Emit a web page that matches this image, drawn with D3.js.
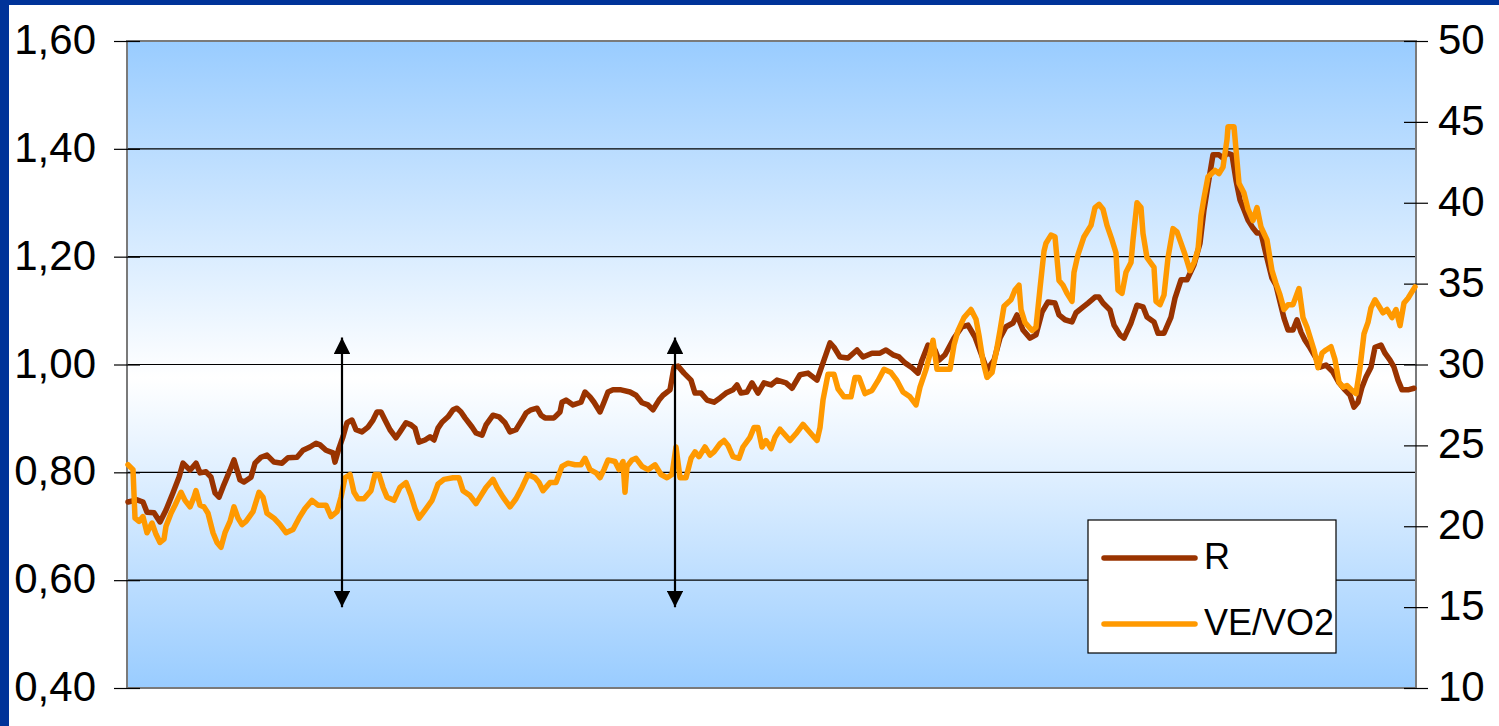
<!DOCTYPE html>
<html><head><meta charset="utf-8">
<script src="https://cdn.jsdelivr.net/npm/d3@7"></script>
<style>
html,body{margin:0;padding:0;background:#fff;}
svg{display:block;font-family:"Liberation Sans",Arial,sans-serif;}
</style></head>
<body>
<svg id="c" width="1499" height="726"></svg>
<script>
// ---- Data (time position, value) ----
const leftTicks = [0.4, 0.6, 0.8, 1.0, 1.2, 1.4, 1.6];
const rightTicks = [10, 15, 20, 25, 30, 35, 40, 45, 50];
const seriesNames = ["R", "VE/VO2"];
const arrowTimes = [215, 548];

const rData = [[1,0.745],[10,0.749],[16,0.745],[20,0.726],[27,0.725],[33,0.708],[39,0.730],[46,0.762],[52,0.791],[56,0.817],[63,0.804],[69,0.817],[73,0.799],[79,0.801],[84,0.791],[88,0.762],[92,0.754],[96,0.773],[103,0.804],[107,0.823],[113,0.786],[117,0.782],[124,0.791],[128,0.817],[134,0.828],[140,0.832],[147,0.819],[155,0.817],[161,0.827],[170,0.828],[176,0.841],[183,0.847],[189,0.854],[193,0.851],[199,0.841],[206,0.836],[208,0.819],[212,0.845],[216,0.866],[220,0.892],[225,0.897],[229,0.879],[235,0.875],[241,0.884],[246,0.897],[250,0.912],[254,0.912],[258,0.897],[263,0.879],[269,0.864],[273,0.875],[279,0.892],[284,0.888],[288,0.882],[292,0.856],[298,0.860],[303,0.866],[307,0.860],[311,0.882],[315,0.893],[321,0.903],[326,0.916],[330,0.919],[334,0.912],[338,0.901],[345,0.884],[349,0.873],[355,0.869],[359,0.888],[366,0.906],[372,0.903],[378,0.892],[383,0.875],[389,0.879],[395,0.897],[399,0.910],[404,0.916],[410,0.919],[414,0.906],[418,0.901],[427,0.901],[433,0.912],[435,0.930],[439,0.934],[446,0.925],[454,0.930],[458,0.949],[463,0.940],[467,0.930],[473,0.912],[477,0.930],[481,0.949],[486,0.953],[494,0.953],[503,0.949],[509,0.943],[515,0.929],[521,0.925],[526,0.916],[532,0.934],[536,0.943],[543,0.953],[547,0.995],[551,0.997],[557,0.984],[564,0.971],[568,0.947],[574,0.947],[580,0.934],[587,0.930],[593,0.938],[599,0.947],[606,0.953],[610,0.962],[614,0.947],[620,0.949],[625,0.966],[631,0.947],[637,0.966],[644,0.962],[650,0.971],[659,0.966],[665,0.956],[673,0.981],[681,0.984],[690,0.971],[696,1.003],[703,1.040],[707,1.032],[713,1.014],[721,1.012],[730,1.027],[736,1.014],[745,1.021],[753,1.021],[759,1.027],[766,1.018],[772,1.014],[778,1.003],[785,0.994],[791,0.984],[795,1.008],[801,1.036],[808,1.027],[812,1.008],[818,1.018],[827,1.049],[835,1.070],[841,1.073],[848,1.051],[854,1.021],[860,0.990],[867,1.008],[873,1.049],[879,1.070],[886,1.077],[890,1.092],[896,1.064],[903,1.049],[909,1.055],[915,1.097],[921,1.116],[928,1.114],[932,1.092],[938,1.083],[945,1.079],[949,1.096],[955,1.105],[961,1.114],[968,1.125],[972,1.125],[976,1.114],[983,1.101],[987,1.073],[993,1.055],[997,1.049],[1004,1.077],[1010,1.110],[1016,1.107],[1020,1.088],[1027,1.079],[1031,1.058],[1037,1.058],[1044,1.088],[1048,1.123],[1054,1.157],[1060,1.157],[1067,1.185],[1073,1.225],[1077,1.287],[1081,1.333],[1086,1.389],[1092,1.389],[1096,1.383],[1100,1.392],[1105,1.389],[1109,1.342],[1113,1.305],[1117,1.287],[1121,1.268],[1126,1.253],[1130,1.244],[1134,1.244],[1138,1.212],[1145,1.160],[1149,1.147],[1153,1.116],[1157,1.086],[1161,1.064],[1166,1.064],[1170,1.083],[1174,1.060],[1178,1.045],[1183,1.031],[1189,1.012],[1193,0.995],[1199,0.999],[1206,0.986],[1212,0.966],[1218,0.953],[1223,0.943],[1227,0.921],[1231,0.930],[1235,0.958],[1239,0.977],[1244,0.995],[1248,1.032],[1254,1.036],[1258,1.021],[1263,1.008],[1267,0.995],[1271,0.971],[1275,0.953],[1281,0.953],[1287,0.956]];

const veData = [[1,23.8],[6,23.5],[8,20.5],[12,20.3],[16,20.6],[20,19.6],[25,20.2],[29,19.5],[33,19.0],[37,19.2],[39,20.0],[44,20.8],[48,21.3],[54,22.1],[58,21.6],[63,21.2],[67,21.8],[69,22.2],[73,21.3],[77,21.2],[81,20.8],[86,19.6],[90,19.0],[94,18.7],[98,19.6],[103,20.3],[107,21.2],[111,20.5],[115,20.1],[119,20.3],[126,20.9],[132,22.1],[136,21.8],[140,20.8],[147,20.5],[153,20.1],[159,19.6],[166,19.8],[172,20.5],[178,21.1],[185,21.6],[191,21.3],[199,21.3],[204,20.6],[210,20.9],[214,21.8],[218,23.0],[223,23.2],[227,22.1],[231,21.7],[237,21.7],[244,22.2],[248,23.2],[252,23.2],[256,22.4],[260,21.8],[267,21.6],[273,22.4],[279,22.7],[284,21.9],[288,21.1],[292,20.5],[298,21.0],[305,21.6],[311,22.6],[317,22.9],[326,23.0],[332,23.0],[336,22.2],[343,21.9],[349,21.4],[353,21.8],[359,22.4],[366,22.9],[370,22.4],[376,21.8],[383,21.2],[389,21.7],[395,22.4],[401,23.2],[408,23.0],[412,22.7],[416,22.2],[423,22.7],[429,22.7],[435,23.7],[441,23.9],[448,23.8],[454,23.8],[458,24.2],[463,23.5],[469,23.3],[473,23.0],[477,23.5],[481,24.1],[488,24.0],[492,23.5],[496,24.0],[498,22.1],[500,23.7],[505,24.1],[509,24.2],[515,23.7],[521,23.5],[528,23.8],[534,23.2],[540,23.0],[545,23.2],[549,24.9],[553,23.0],[559,23.0],[564,24.2],[568,24.6],[572,24.3],[578,24.9],[583,24.4],[587,24.6],[593,25.1],[597,25.3],[601,25.0],[606,24.3],[612,24.2],[616,24.9],[623,25.5],[627,26.1],[631,26.1],[635,24.9],[639,25.3],[644,24.8],[648,25.5],[653,26.0],[663,25.3],[670,25.8],[676,26.3],[683,25.8],[690,25.3],[693,26.1],[696,27.8],[701,29.4],[707,29.4],[711,28.5],[717,28.0],[724,28.0],[728,29.2],[732,29.2],[738,28.2],[745,28.4],[751,29.0],[757,29.7],[764,29.5],[770,29.0],[776,28.3],[783,28.0],[789,27.5],[793,28.6],[799,29.7],[804,30.9],[806,31.5],[810,29.7],[816,29.7],[823,29.7],[827,31.2],[831,32.1],[837,32.9],[844,33.4],[849,32.8],[852,31.8],[856,30.2],[860,29.2],[865,29.5],[869,30.7],[873,32.1],[877,33.6],[884,34.0],[888,34.6],[892,34.9],[894,33.4],[898,32.6],[905,32.1],[909,32.3],[913,34.7],[917,37.0],[919,37.5],[924,38.0],[928,37.9],[932,35.2],[936,34.9],[940,34.4],[945,33.9],[947,35.7],[951,36.8],[957,37.9],[964,38.6],[968,39.7],[972,39.9],[976,39.6],[980,38.6],[985,37.7],[989,36.9],[991,34.6],[995,34.4],[999,35.7],[1004,36.3],[1006,37.7],[1010,40.0],[1014,39.7],[1016,38.1],[1020,36.6],[1027,36.0],[1029,33.9],[1033,33.7],[1037,34.3],[1041,36.6],[1046,38.4],[1050,38.2],[1054,37.5],[1058,36.8],[1063,35.8],[1067,36.3],[1071,37.1],[1074,39.2],[1077,40.3],[1081,41.6],[1088,42.0],[1092,41.8],[1096,42.2],[1100,43.9],[1101,44.7],[1107,44.7],[1109,43.3],[1112,41.2],[1117,40.6],[1121,39.6],[1126,38.9],[1130,39.7],[1134,38.5],[1140,37.7],[1145,35.8],[1149,35.0],[1153,34.3],[1157,33.4],[1161,33.7],[1166,33.7],[1172,34.7],[1176,32.9],[1180,32.3],[1187,30.9],[1191,29.8],[1195,30.7],[1199,30.9],[1204,31.1],[1208,30.3],[1212,28.9],[1216,28.6],[1220,28.7],[1225,28.4],[1229,28.2],[1233,29.8],[1237,31.9],[1241,32.6],[1244,33.5],[1248,34.0],[1252,33.6],[1256,33.2],[1260,33.4],[1265,32.9],[1269,33.4],[1273,32.4],[1277,33.8],[1281,34.1],[1288,34.8]];

// ---- Layout ----
const svg = d3.select("#c");
const X0 = 127, X1 = 1416, Y0 = 41, Y1 = 688;
const colors = {R: "#993300", VE: "#ff9900"};

const x = d3.scaleLinear().domain([0, 1289]).range([X0, X1]);
const yL = d3.scaleLinear().domain([0.4, 1.6]).range([Y1, Y0]);
const yR = d3.scaleLinear().domain([10, 50]).range([Y1, Y0]);

// slide border
svg.append("rect").attr("x",0).attr("y",0).attr("width",1499).attr("height",726).attr("fill","#fff");
svg.append("rect").attr("x",0).attr("y",0).attr("width",9).attr("height",726).attr("fill","#003399");
svg.append("rect").attr("x",0).attr("y",0).attr("width",1499).attr("height",5).attr("fill","#003399");

// gradient
const defs = svg.append("defs");
const g = defs.append("linearGradient").attr("id","bg").attr("x1",0).attr("y1",0).attr("x2",0).attr("y2",1);
g.append("stop").attr("offset","0%").attr("stop-color","#99ccff");
g.append("stop").attr("offset","52%").attr("stop-color","#ffffff");
g.append("stop").attr("offset","100%").attr("stop-color","#99ccff");

svg.append("rect").attr("x",X0).attr("y",Y0).attr("width",X1-X0).attr("height",Y1-Y0).attr("fill","url(#bg)");

// gridlines
svg.append("g").selectAll("line").data(leftTicks.slice(1,-1)).join("line")
  .attr("x1",X0).attr("x2",X1).attr("y1",d=>yL(d)).attr("y2",d=>yL(d))
  .attr("stroke","#000").attr("stroke-width",1.2);

// plot border
svg.append("rect").attr("x",X0).attr("y",Y0).attr("width",X1-X0).attr("height",Y1-Y0)
  .attr("fill","none").attr("stroke","#7a7a7a").attr("stroke-width",2);

// axes
const fmt = d3.formatLocale({decimal: ",", thousands: ".", grouping: [3], currency: ["", "€"]}).format(".2f");
const axL = svg.append("g").attr("transform",`translate(${X0+13},0)`)
  .call(d3.axisLeft(yL).tickValues(leftTicks).tickFormat(fmt).tickSize(26).tickPadding(18));
const axR = svg.append("g").attr("transform",`translate(${X1-12},0)`)
  .call(d3.axisRight(yR).tickValues(rightTicks).tickFormat(d3.format("d")).tickSize(24).tickPadding(10));
[axL, axR].forEach(a => {
  a.select(".domain").remove();
  a.selectAll(".tick line").attr("stroke","#000").attr("stroke-width",1.2);
  a.selectAll(".tick text").attr("fill","#000").style("font-size","42px")
    .style("font-family","'Liberation Sans',Arial,sans-serif").attr("dy","0.3em");
});

// series
const lineL = d3.line().x(d=>x(d[0])).y(d=>yL(d[1]));
const lineR = d3.line().x(d=>x(d[0])).y(d=>yR(d[1]));
svg.append("path").datum(rData).attr("d",lineL).attr("fill","none")
  .attr("stroke",colors.R).attr("stroke-width",5.5).attr("stroke-linejoin","round").attr("stroke-linecap","round");
svg.append("path").datum(veData).attr("d",lineR).attr("fill","none")
  .attr("stroke",colors.VE).attr("stroke-width",5.5).attr("stroke-linejoin","round").attr("stroke-linecap","round");

// double-headed arrows
defs.append("marker").attr("id","ah").attr("viewBox","0 0 10 10").attr("refX",10).attr("refY",5)
  .attr("markerWidth",7.5).attr("markerHeight",7.5).attr("markerUnits","strokeWidth").attr("orient","auto-start-reverse")
  .append("path").attr("d","M0,0 L10,5 L0,10 Z").attr("fill","#000");
svg.append("g").selectAll("line").data(arrowTimes).join("line")
  .attr("x1",d=>x(d)).attr("x2",d=>x(d)).attr("y1",yL(1.05)).attr("y2",yL(0.55))
  .attr("stroke","#000").attr("stroke-width",2.2)
  .attr("marker-start","url(#ah)").attr("marker-end","url(#ah)");

// legend
const lg = svg.append("g");
lg.append("rect").attr("x",1088).attr("y",520).attr("width",248).attr("height",133)
  .attr("fill","#fff").attr("stroke","#000").attr("stroke-width",1.2);
const legItems = [{name: seriesNames[0], c: colors.R, y: 558}, {name: seriesNames[1], c: colors.VE, y: 624}];
legItems.forEach(it => {
  lg.append("line").attr("x1",1104).attr("x2",1195).attr("y1",it.y).attr("y2",it.y)
    .attr("stroke",it.c).attr("stroke-width",5.5).attr("stroke-linecap","round");
  lg.append("text").attr("x",1204).attr("y",it.y+11).text(it.name)
    .style("font-size","36px").attr("fill","#000");
});
</script>
</body></html>
